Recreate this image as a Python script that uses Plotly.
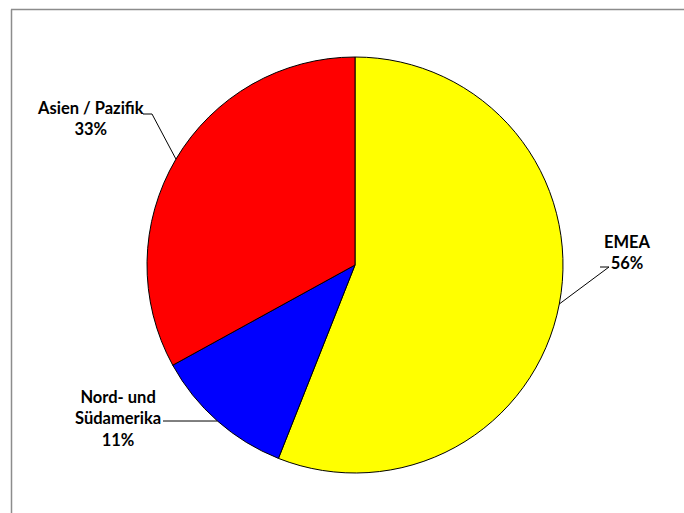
import math
import plotly.graph_objects as go

# ---- data ----
regions = ["EMEA", "Nord- und Südamerika", "Asien / Pazifik"]
label_text = ["EMEA", "Nord- und<br>Südamerika", "Asien / Pazifik"]
shares = [56, 11, 33]
colors = ["#FFFF00", "#0000FF", "#FF0000"]

W, H = 684, 513
CX, CY, R = 355, 265, 208  # pie centre / radius in px

# label placement (px): text centre, and elbow of leader line (relative to text side)
label_pos = [(627, 252), (118, 418), (90, 119)]
elbow = [[(600, 267), (609, 267)], [(163, 421)], [(143, 114), (152, 114)]]

fig = go.Figure()
fig.add_trace(go.Pie(
    labels=regions, values=shares, sort=False, direction="clockwise", rotation=0,
    marker=dict(colors=colors, line=dict(color="black", width=1)),
    textinfo="none", hoverinfo="label+percent", showlegend=False,
    domain=dict(x=[(CX - R) / W, (CX + R) / W], y=[1 - (CY + R) / H, 1 - (CY - R) / H]),
))

def px(x, y):
    return x / W, 1 - y / H

total = sum(shares)
cum = 0
for i, v in enumerate(shares):
    mid = (cum + v / 2) / total * 2 * math.pi
    cum += v
    ax = CX + R * math.sin(mid)
    ay = CY - R * math.cos(mid)
    pts = elbow[i] + [(ax, ay)]
    # leader line: start at text side, through elbow, to slice edge
    path = "M " + " L ".join(f"{px(x, y)[0]},{px(x, y)[1]}" for x, y in pts)
    fig.add_shape(type="path", path=path, xref="paper", yref="paper",
                  line=dict(color="black", width=1))
    pct = round(v / total * 100)
    tx, ty = px(*label_pos[i])
    fig.add_annotation(x=tx, y=ty, xref="paper", yref="paper", showarrow=False,
                       text=f"<b>{label_text[i]}<br>{pct}%</b>",
                       xanchor="center", yanchor="middle", align="center",
                       font=dict(family="Lato", size=16.5, color="black"))

# chart-area frame (left and top edges)
fig.add_shape(type="line", xref="paper", yref="paper", x0=11.5 / W, x1=11.5 / W, y0=0, y1=1 - 9.5 / H,
              line=dict(color="#8c8c8c", width=1.5))
fig.add_shape(type="line", xref="paper", yref="paper", x0=11 / W, x1=1, y0=1 - 9.5 / H, y1=1 - 9.5 / H,
              line=dict(color="#8c8c8c", width=1.5))

fig.update_layout(width=W, height=H, margin=dict(l=0, r=0, t=0, b=0),
                  paper_bgcolor="white", plot_bgcolor="white")
fig.write_html("out.html")
